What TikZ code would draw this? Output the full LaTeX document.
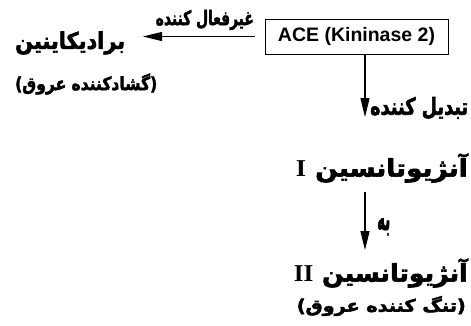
\documentclass[tikz,border=0pt]{standalone}
\usepackage{fontspec}
\usepackage{graphicx}
\usetikzlibrary{arrows.meta}
\TeXXeTstate=1
\newfontfamily\fafont[Script=Arabic,BoldFeatures={FakeBold=2.5}]{DejaVu Sans}
\newfontfamily\latfont{Liberation Sans}
\newfontfamily\romfont{Liberation Serif}
\newcommand\fitw[2]{\resizebox{#1pt}{!}{#2}}
\newcommand\fitwh[3]{\resizebox*{#1pt}{#2pt}{#3}}
\newcommand\romI[1]{{\romfont\bfseries #1}}

\begin{document}
\begin{tikzpicture}[x=1pt,y=1pt,yscale=-1,
  falabel/.style={inner sep=0pt,font=\fafont\bfseries},
  arr/.style={line width=1.2pt,-{Triangle[length=19pt,width=9pt]}}]
\useasboundingbox (0,0) rectangle (471,325);

% Box
\node[draw,line width=1pt,minimum width=183pt,minimum height=35pt,inner sep=0pt,
  font=\latfont\bfseries] (ace) at (356.5,36.5) {\fitw{157}{ACE (Kininase 2)}};

% Text Node
\node[falabel,anchor=west] (brady) at (15,43) {\fitwh{110}{23}{\beginR برادیکاینین\endR}};
% Text Node
\node[falabel,anchor=west] (dilat) at (15,84) {\fitwh{142}{21}{)\beginR گشادکننده عروق\endR(}};
% Text Node
\node[falabel,anchor=east] (inact) at (254,20) {\fitwh{98}{20}{\beginR غیرفعال کننده\endR}};

% Straight Lines
\draw[arr,shorten <=10pt] (ace.west) -- (ace.west -| 143,0);

% Straight Lines
\coordinate (a1top) at ([xshift=8.5pt]ace.south);
\coordinate (a1end) at (365,117);
\draw[arr] (a1top) -- (a1end);
% Text Node
\node[falabel,anchor=west] (conv) at (370,108) {\fitwh{98}{22}{\beginR تبدیل کننده\endR}};

% Text Node
\node[falabel,anchor=east] (ang1) at (468,168) {\fitwh{172}{29}{\beginR آنژیوتانسین \romI{I}\endR}};
% Straight Lines
\coordinate (a2top) at (365,192);
\coordinate (a2end) at (365,250);
\draw[arr] (a2top) -- (a2end);
% Text Node
\node[falabel,anchor=west] (to) at (377,227) {\fitwh{13}{17}{\beginR به\endR}};

% Text Node
\node[falabel,anchor=east] (ang2) at (468,273) {\fitwh{174}{29}{\beginR آنژیوتانسین \romI{II}\endR}};
% Text Node
\node[falabel,anchor=east] (constr) at (466,306) {\fitwh{169}{20}{)\beginR تنگ کننده عروق\endR(}};

\end{tikzpicture}
\end{document}
